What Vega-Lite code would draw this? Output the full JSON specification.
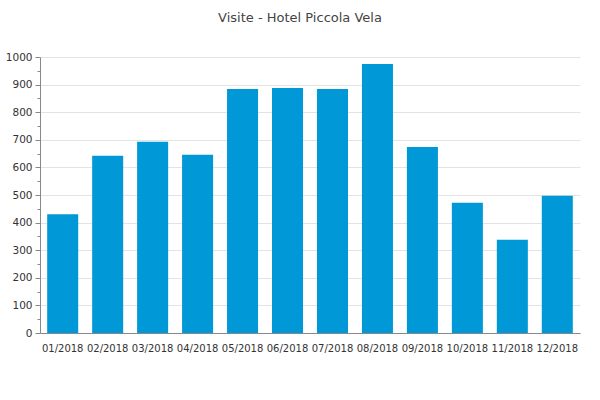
{
  "$schema": "https://vega.github.io/schema/vega-lite/v6.json",
  "width": 540,
  "height": 276,
  "autosize": "none",
  "padding": {"left": 40, "top": 57, "right": 20, "bottom": 67},
  "background": "white",
  "title": {"text": "Visite - Hotel Piccola Vela", "font": "DejaVu Sans", "fontSize": 13, "fontWeight": "normal", "color": "#444444", "offset": 27, "dx": -10},
  "data": {"values": [
    {"mese": "01/2018", "visite": 430},
    {"mese": "02/2018", "visite": 642},
    {"mese": "03/2018", "visite": 693},
    {"mese": "04/2018", "visite": 646},
    {"mese": "05/2018", "visite": 884},
    {"mese": "06/2018", "visite": 888},
    {"mese": "07/2018", "visite": 884},
    {"mese": "08/2018", "visite": 975},
    {"mese": "09/2018", "visite": 674},
    {"mese": "10/2018", "visite": 472},
    {"mese": "11/2018", "visite": 338},
    {"mese": "12/2018", "visite": 497}
  ]},
  "mark": {"type": "bar", "color": "#0098d6"},
  "encoding": {
    "x": {"field": "mese", "type": "ordinal", "sort": null,
      "scale": {"paddingInner": 0.31, "paddingOuter": 0.16},
      "axis": {"title": null, "labelAngle": 0, "ticks": false, "labelPadding": 10, "labelFont": "DejaVu Sans", "labelFontSize": 10, "labelColor": "#333333", "domainColor": "#888888", "grid": false, "labelOverlap": false}},
    "y": {"field": "visite", "type": "quantitative",
      "scale": {"domain": [0, 1000], "nice": false},
      "axis": {"title": null, "format": "d", "values": [0,50,100,150,200,250,300,350,400,450,500,550,600,650,700,750,800,850,900,950,1000],
        "labelExpr": "datum.value % 100 === 0 ? datum.label : ''",
        "tickSize": {"condition": {"test": "datum.value % 100 === 0", "value": 5}, "value": 3},
        "gridOpacity": {"condition": {"test": "datum.value % 100 === 0", "value": 1}, "value": 0},
        "gridColor": "#e3e3e3", "tickColor": "#888888", "domainColor": "#888888",
        "labelFont": "DejaVu Sans", "labelFontSize": 10.5, "labelColor": "#333333", "labelPadding": 3}}
  },
  "config": {"view": {"stroke": null}}
}
